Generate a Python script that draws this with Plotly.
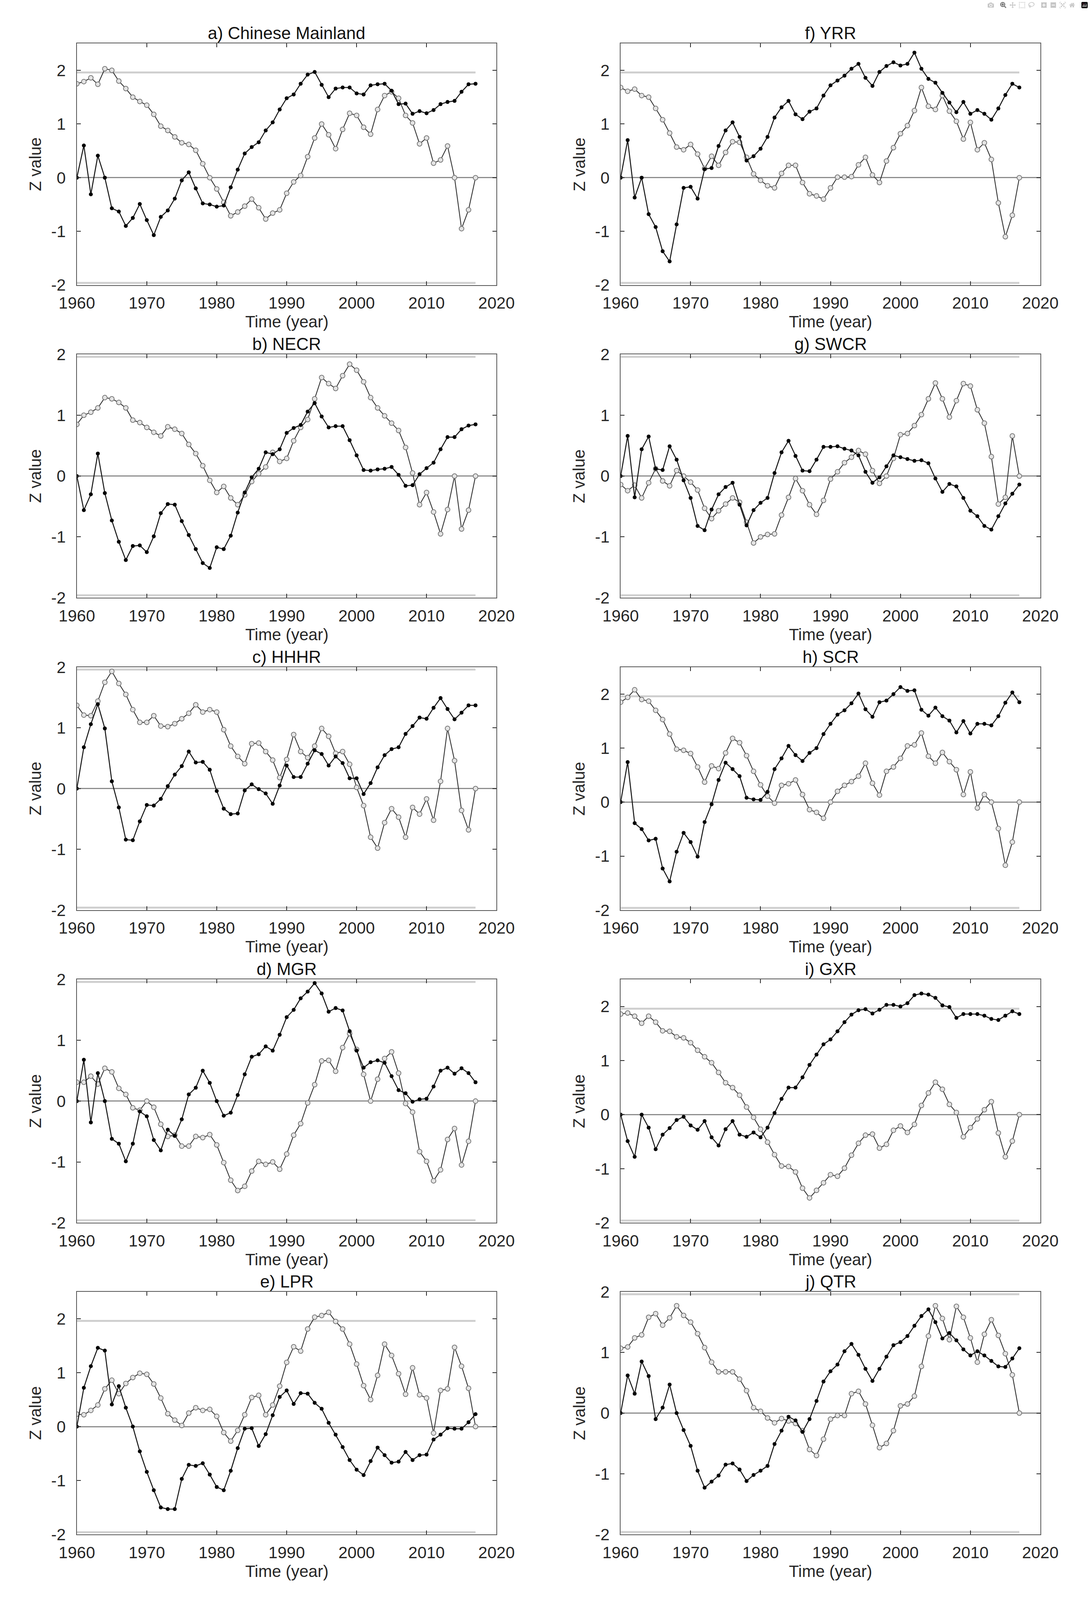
import plotly.graph_objects as go

YEARS = list(range(1960, 2018))
CRIT = 1.96
X_TICKS = [1960, 1970, 1980, 1990, 2000, 2010, 2020]
Y_TICKS = [-2, -1, 0, 1, 2]
Y_TICK_TEXT = ["-2", "-1", "0", "1", "2"]

TITLES = ["a) Chinese Mainland", "b) NECR", "c) HHHR", "d) MGR", "e) LPR",
          "f) YRR", "g) SWCR", "h) SCR", "i) GXR", "j) QTR"]

A_UF = [0, 0.60, -0.31, 0.41, 0, -0.57, -0.63, -0.90, -0.75, -0.49,
        -0.79, -1.07, -0.73, -0.61, -0.39, -0.05, 0.10, -0.20, -0.48, -0.50,
        -0.54, -0.52, -0.18, 0.15, 0.45, 0.57, 0.66, 0.88, 1.03, 1.27,
        1.48, 1.55, 1.75, 1.92, 1.97, 1.73, 1.50, 1.66, 1.68, 1.68,
        1.57, 1.55, 1.72, 1.74, 1.75, 1.62, 1.37, 1.38, 1.19, 1.24,
        1.20, 1.26, 1.37, 1.41, 1.43, 1.60, 1.74, 1.75]
A_UB = [1.75, 1.79, 1.86, 1.74, 2.03, 2.00, 1.80, 1.66, 1.50, 1.42,
        1.35, 1.18, 0.96, 0.88, 0.76, 0.65, 0.62, 0.51, 0.26, 0.00,
        -0.21, -0.46, -0.71, -0.64, -0.53, -0.40, -0.56, -0.77, -0.66, -0.60,
        -0.29, -0.08, 0.04, 0.39, 0.74, 1.00, 0.80, 0.54, 0.90, 1.20,
        1.16, 0.94, 0.81, 1.27, 1.53, 1.60, 1.48, 1.16, 1.02, 0.63,
        0.74, 0.27, 0.33, 0.59, 0.00, -0.95, -0.60, 0.00]

B_UF = [0, -0.56, -0.30, 0.37, -0.28, -0.73, -1.08, -1.38, -1.15, -1.14,
        -1.25, -0.99, -0.61, -0.46, -0.47, -0.74, -0.97, -1.20, -1.43, -1.51,
        -1.17, -1.20, -0.98, -0.60, -0.27, -0.02, 0.12, 0.39, 0.36, 0.44,
        0.71, 0.79, 0.84, 1.06, 1.20, 0.98, 0.80, 0.82, 0.82, 0.59,
        0.34, 0.10, 0.09, 0.11, 0.12, 0.15, 0.02, -0.16, -0.15, 0.03,
        0.13, 0.22, 0.44, 0.64, 0.64, 0.77, 0.83, 0.85]
B_UB = [0.85, 1.00, 1.05, 1.12, 1.29, 1.27, 1.21, 1.12, 0.92, 0.88,
        0.80, 0.72, 0.66, 0.81, 0.77, 0.70, 0.52, 0.37, 0.17, -0.07,
        -0.27, -0.17, -0.36, -0.47, -0.31, -0.09, 0.04, 0.15, 0.39, 0.24,
        0.29, 0.58, 0.80, 0.93, 1.27, 1.62, 1.52, 1.44, 1.65, 1.84,
        1.74, 1.55, 1.29, 1.12, 0.99, 0.87, 0.75, 0.47, 0.05, -0.47,
        -0.27, -0.59, -0.95, -0.55, 0.00, -0.87, -0.56, 0.00]

C_UF = [0, 0.68, 1.06, 1.39, 0.99, 0.12, -0.31, -0.84, -0.85, -0.54,
        -0.27, -0.28, -0.17, 0.04, 0.23, 0.37, 0.61, 0.43, 0.44, 0.31,
        -0.04, -0.33, -0.42, -0.41, -0.03, 0.07, -0.01, -0.08, -0.25, 0.05,
        0.38, 0.19, 0.19, 0.41, 0.63, 0.57, 0.38, 0.53, 0.42, 0.17,
        0.17, -0.09, 0.09, 0.35, 0.55, 0.65, 0.68, 0.90, 1.03, 1.17,
        1.15, 1.33, 1.49, 1.31, 1.14, 1.25, 1.37, 1.37]
C_UB = [1.37, 1.21, 1.20, 1.44, 1.75, 1.93, 1.73, 1.55, 1.30, 1.09,
        1.09, 1.20, 1.03, 1.02, 1.07, 1.15, 1.24, 1.38, 1.26, 1.30,
        1.26, 0.97, 0.70, 0.53, 0.41, 0.74, 0.75, 0.61, 0.47, 0.18,
        0.48, 0.89, 0.61, 0.51, 0.70, 0.99, 0.86, 0.58, 0.61, 0.40,
        0.02, -0.28, -0.80, -0.98, -0.56, -0.33, -0.47, -0.80, -0.31, -0.42,
        -0.17, -0.52, 0.12, 0.99, 0.46, -0.36, -0.68, 0.00]

D_UF = [0, 0.68, -0.35, 0.46, 0, -0.62, -0.70, -0.99, -0.70, -0.17,
        -0.25, -0.64, -0.81, -0.47, -0.57, -0.30, 0.11, 0.22, 0.50, 0.30,
        0.00, -0.24, -0.19, 0.10, 0.44, 0.73, 0.77, 0.90, 0.83, 1.09,
        1.38, 1.50, 1.69, 1.80, 1.94, 1.77, 1.47, 1.53, 1.49, 1.15,
        0.83, 0.55, 0.64, 0.67, 0.63, 0.41, 0.18, 0.13, -0.01, 0.03,
        0.04, 0.24, 0.50, 0.55, 0.45, 0.54, 0.46, 0.31]
D_UB = [0.31, 0.31, 0.41, 0.28, 0.54, 0.48, 0.21, 0.11, -0.11, -0.15,
        0.00, -0.10, -0.38, -0.58, -0.56, -0.74, -0.74, -0.58, -0.60, -0.55,
        -0.72, -1.01, -1.30, -1.47, -1.40, -1.15, -0.99, -1.04, -1.00, -1.12,
        -0.87, -0.56, -0.37, -0.03, 0.27, 0.66, 0.67, 0.49, 0.88, 1.11,
        0.85, 0.44, 0.00, 0.36, 0.70, 0.81, 0.46, -0.04, -0.18, -0.83,
        -0.99, -1.31, -1.13, -0.63, -0.45, -1.05, -0.66, 0.00]

E_UF = [0, 0.72, 1.12, 1.46, 1.41, 0.41, 0.75, 0.35, 0.00, -0.46,
        -0.84, -1.18, -1.50, -1.53, -1.53, -0.97, -0.71, -0.73, -0.68, -0.89,
        -1.12, -1.18, -0.82, -0.40, -0.04, -0.03, -0.36, -0.14, 0.21, 0.55,
        0.67, 0.42, 0.62, 0.61, 0.44, 0.33, 0.07, -0.15, -0.38, -0.62,
        -0.80, -0.90, -0.64, -0.39, -0.53, -0.67, -0.65, -0.47, -0.62, -0.53,
        -0.52, -0.24, -0.15, -0.03, -0.04, -0.04, 0.08, 0.23]
E_UB = [0.23, 0.22, 0.30, 0.40, 0.70, 0.86, 0.61, 0.80, 0.91, 0.99,
        0.97, 0.79, 0.53, 0.24, 0.12, 0.02, 0.25, 0.35, 0.30, 0.32,
        0.19, -0.11, -0.27, -0.07, 0.22, 0.54, 0.58, 0.22, 0.40, 0.75,
        1.19, 1.48, 1.40, 1.81, 2.03, 2.06, 2.12, 1.95, 1.81, 1.53,
        1.16, 0.76, 0.50, 0.95, 1.53, 1.32, 0.98, 0.60, 1.09, 0.59,
        0.53, -0.12, 0.67, 0.70, 1.47, 1.12, 0.71, 0.00]

F_UF = [0, 0.70, -0.37, 0.00, -0.68, -0.92, -1.37, -1.56, -0.87, -0.19,
        -0.17, -0.39, 0.16, 0.18, 0.59, 0.88, 1.03, 0.76, 0.32, 0.40,
        0.54, 0.76, 1.12, 1.31, 1.43, 1.18, 1.09, 1.23, 1.29, 1.53,
        1.72, 1.81, 1.90, 2.03, 2.12, 1.86, 1.71, 1.97, 2.08, 2.15,
        2.09, 2.12, 2.33, 2.03, 1.84, 1.77, 1.58, 1.40, 1.22, 1.41,
        1.19, 1.26, 1.19, 1.08, 1.29, 1.54, 1.75, 1.68]
F_UB = [1.68, 1.61, 1.65, 1.53, 1.50, 1.29, 1.08, 0.83, 0.57, 0.52,
        0.62, 0.44, 0.17, 0.40, 0.23, 0.47, 0.67, 0.66, 0.38, 0.07,
        -0.05, -0.15, -0.19, 0.08, 0.23, 0.23, -0.09, -0.30, -0.34, -0.40,
        -0.19, 0.01, 0.01, 0.02, 0.24, 0.38, 0.05, -0.09, 0.31, 0.56,
        0.82, 0.97, 1.25, 1.68, 1.33, 1.27, 1.53, 1.24, 1.05, 0.72,
        1.03, 0.52, 0.65, 0.34, -0.47, -1.10, -0.70, 0.00]

G_UF = [0, 0.66, -0.35, 0.44, 0.65, 0.12, 0.10, 0.49, 0.27, -0.07,
        -0.36, -0.82, -0.89, -0.55, -0.30, -0.18, -0.11, -0.47, -0.81, -0.56,
        -0.44, -0.36, 0.05, 0.39, 0.58, 0.33, 0.09, 0.08, 0.27, 0.48,
        0.48, 0.49, 0.45, 0.42, 0.34, 0.07, -0.11, -0.02, 0.16, 0.34,
        0.31, 0.28, 0.25, 0.26, 0.21, -0.04, -0.26, -0.13, -0.17, -0.36,
        -0.57, -0.66, -0.82, -0.88, -0.66, -0.45, -0.29, -0.14]
G_UB = [-0.14, -0.24, -0.15, -0.36, -0.11, 0.12, -0.08, -0.16, 0.09, 0.00,
        -0.10, -0.23, -0.53, -0.70, -0.57, -0.46, -0.36, -0.43, -0.76, -1.10,
        -1.00, -0.96, -0.95, -0.64, -0.35, -0.04, -0.24, -0.47, -0.63, -0.40,
        -0.05, 0.07, 0.22, 0.31, 0.42, 0.36, 0.09, -0.12, 0.00, 0.29,
        0.68, 0.70, 0.83, 1.01, 1.27, 1.53, 1.27, 0.97, 1.24, 1.52,
        1.48, 1.09, 0.87, 0.32, -0.46, -0.35, 0.66, 0.00]

H_UF = [0, 0.74, -0.39, -0.50, -0.71, -0.68, -1.23, -1.47, -0.92, -0.57,
        -0.74, -1.01, -0.37, -0.04, 0.41, 0.73, 0.61, 0.48, 0.08, 0.05,
        0.04, 0.19, 0.61, 0.81, 1.04, 0.87, 0.76, 0.91, 1.00, 1.26,
        1.45, 1.62, 1.70, 1.83, 2.01, 1.72, 1.58, 1.85, 1.88, 2.00,
        2.13, 2.06, 2.07, 1.71, 1.60, 1.75, 1.59, 1.51, 1.29, 1.50,
        1.27, 1.45, 1.45, 1.42, 1.59, 1.84, 2.03, 1.85]
H_UB = [1.85, 1.94, 2.08, 1.90, 1.87, 1.70, 1.53, 1.26, 0.98, 0.96,
        0.90, 0.65, 0.37, 0.67, 0.62, 0.91, 1.18, 1.10, 0.86, 0.57,
        0.32, 0.11, -0.02, 0.31, 0.34, 0.41, 0.14, -0.14, -0.19, -0.30,
        0.00, 0.20, 0.31, 0.38, 0.48, 0.72, 0.35, 0.13, 0.57, 0.65,
        0.81, 1.04, 1.06, 1.28, 0.85, 0.72, 0.92, 0.75, 0.60, 0.14,
        0.56, -0.11, 0.14, 0.00, -0.49, -1.17, -0.74, 0.00]

I_UF = [0, -0.49, -0.78, 0.00, -0.24, -0.64, -0.37, -0.25, -0.10, -0.04,
        -0.20, -0.28, -0.12, -0.42, -0.57, -0.27, -0.12, -0.37, -0.41, -0.33,
        -0.42, -0.24, 0.03, 0.29, 0.50, 0.50, 0.69, 0.92, 1.11, 1.30,
        1.39, 1.54, 1.71, 1.85, 1.93, 1.95, 1.87, 1.94, 2.03, 2.03,
        2.00, 2.06, 2.21, 2.24, 2.22, 2.16, 2.02, 1.99, 1.79, 1.86,
        1.86, 1.86, 1.83, 1.77, 1.75, 1.83, 1.91, 1.86]
I_UB = [1.86, 1.88, 1.82, 1.69, 1.82, 1.71, 1.55, 1.54, 1.44, 1.42,
        1.33, 1.19, 1.07, 0.96, 0.78, 0.59, 0.50, 0.36, 0.14, -0.05,
        -0.27, -0.51, -0.74, -0.95, -0.96, -1.06, -1.36, -1.54, -1.40, -1.26,
        -1.11, -1.14, -0.99, -0.75, -0.53, -0.38, -0.36, -0.62, -0.55, -0.29,
        -0.21, -0.33, -0.18, 0.17, 0.40, 0.60, 0.47, 0.19, 0.04, -0.41,
        -0.24, -0.08, 0.09, 0.24, -0.34, -0.78, -0.49, 0.00]

J_UF = [0, 0.62, 0.32, 0.85, 0.61, -0.10, 0.09, 0.47, 0.00, -0.28,
        -0.54, -0.95, -1.23, -1.13, -1.03, -0.85, -0.83, -0.93, -1.12, -1.02,
        -0.95, -0.87, -0.51, -0.29, -0.06, -0.12, -0.31, -0.10, 0.20, 0.52,
        0.69, 0.80, 1.02, 1.14, 0.96, 0.73, 0.53, 0.73, 0.93, 1.12,
        1.17, 1.27, 1.44, 1.60, 1.71, 1.50, 1.23, 1.32, 1.20, 1.05,
        0.95, 1.02, 0.95, 0.86, 0.77, 0.76, 0.90, 1.07]
J_UB = [1.07, 1.09, 1.24, 1.29, 1.58, 1.64, 1.45, 1.57, 1.77, 1.61,
        1.50, 1.31, 1.08, 0.84, 0.68, 0.68, 0.68, 0.56, 0.37, 0.09,
        0.03, -0.08, -0.16, -0.09, -0.13, -0.17, -0.29, -0.60, -0.70, -0.43,
        -0.10, -0.04, -0.04, 0.32, 0.36, 0.15, -0.20, -0.57, -0.50, -0.29,
        0.12, 0.15, 0.28, 0.77, 1.27, 1.77, 1.56, 1.21, 1.76, 1.58,
        1.24, 0.84, 1.30, 1.54, 1.28, 0.98, 0.63, 0.00]

UF_SERIES = [A_UF, B_UF, C_UF, D_UF, E_UF, F_UF, G_UF, H_UF, I_UF, J_UF]
UB_SERIES = [A_UB, B_UB, C_UB, D_UB, E_UB, F_UB, G_UB, H_UB, I_UB, J_UB]

# ---------- layout ----------
# positions measured on the 2791 x 4446 reference; the photographed viewport
# is 2791 x 4096, so the page is drawn at that size and vertical pixel
# distances are scaled by SY.
REF_W, REF_H = 2791, 4446
W, H = 2791, 4096
SY = H / REF_H
COL_X = [(155, 1267), (1596, 2708)]
ROW_Y = [(97, 776), (971, 1655), (1850, 2533), (2728, 3412), (3606, 4288)]
Y_TOP = [2.5, 2, 2, 2, 2.5, 2.5, 2, 2.5, 2.5, 2]

FONT = "Liberation Sans, Arial, sans-serif"
TXT = "#262626"
FS = 42
FS_TITLE = 44

fig = go.Figure()
annotations = []
layout_axes = {}

for i in range(10):
    col, row = divmod(i, 5)
    k = i + 1
    xs = "" if k == 1 else str(k)
    x0, x1 = COL_X[col]
    y0, y1 = ROW_Y[row]
    xdom = [x0 / REF_W, x1 / REF_W]
    ydom = [1 - y1 / REF_H, 1 - y0 / REF_H]

    for c in (CRIT, -CRIT):
        fig.add_trace(go.Scatter(
            x=[YEARS[0], YEARS[-1]], y=[c, c], mode="lines",
            line=dict(color="#cfcfcf", width=5), hoverinfo="skip",
            showlegend=False, xaxis="x" + xs, yaxis="y" + xs))
    fig.add_trace(go.Scatter(
        x=YEARS, y=UB_SERIES[i], mode="lines+markers",
        line=dict(color="#333333", width=2.2),
        marker=dict(symbol="circle", size=12, color="#e4e4e4",
                    line=dict(color="#7a7a7a", width=2)),
        showlegend=False, xaxis="x" + xs, yaxis="y" + xs))
    fig.add_trace(go.Scatter(
        x=YEARS, y=UF_SERIES[i], mode="lines+markers",
        line=dict(color="#1a1a1a", width=2.6),
        marker=dict(symbol="circle", size=10, color="#000000"),
        showlegend=False, xaxis="x" + xs, yaxis="y" + xs))

    common = dict(ticks="inside", ticklen=10, tickwidth=2, tickcolor=TXT,
                  showline=True, linecolor="#555555", linewidth=2,
                  mirror="ticks", showgrid=False,
                  tickfont=dict(family=FONT, size=FS, color=TXT))
    layout_axes["xaxis" + xs] = dict(
        domain=xdom, range=[1960, 2020], tickvals=X_TICKS,
        anchor="y" + xs, zeroline=False, ticklabelstandoff=8, **common)
    layout_axes["yaxis" + xs] = dict(
        domain=ydom, range=[-2, Y_TOP[i]], tickvals=Y_TICKS,
        ticktext=Y_TICK_TEXT,
        anchor="x" + xs, zeroline=True, zerolinecolor="#8c8c8c",
        zerolinewidth=3, ticklabelstandoff=18, **common)

    xc = (xdom[0] + xdom[1]) / 2
    annotations.append(dict(text=TITLES[i], x=xc, y=ydom[1], xref="paper",
                            yref="paper", xanchor="center", yanchor="bottom",
                            yshift=0, showarrow=False,
                            font=dict(family=FONT, size=FS_TITLE,
                                      color="#111111")))
    annotations.append(dict(text="Time (year)", x=xc, y=ydom[0], xref="paper",
                            yref="paper", xanchor="center", yanchor="middle",
                            yshift=-94, showarrow=False,
                            font=dict(family=FONT, size=FS, color=TXT)))
    annotations.append(dict(text="Z value", x=xdom[0],
                            y=(ydom[0] + ydom[1]) / 2, xref="paper",
                            yref="paper", xanchor="center", yanchor="middle",
                            xshift=-106, textangle=-90, showarrow=False,
                            font=dict(family=FONT, size=FS, color=TXT)))

fig.update_layout(width=W, height=H, margin=dict(l=0, r=0, t=0, b=0),
                  paper_bgcolor="white", plot_bgcolor="white",
                  annotations=annotations, **layout_axes)

POST = ("document.body.style.margin='0';"
        "document.documentElement.style.overflow='hidden';")

fig.write_html("out.html", post_script=POST)
